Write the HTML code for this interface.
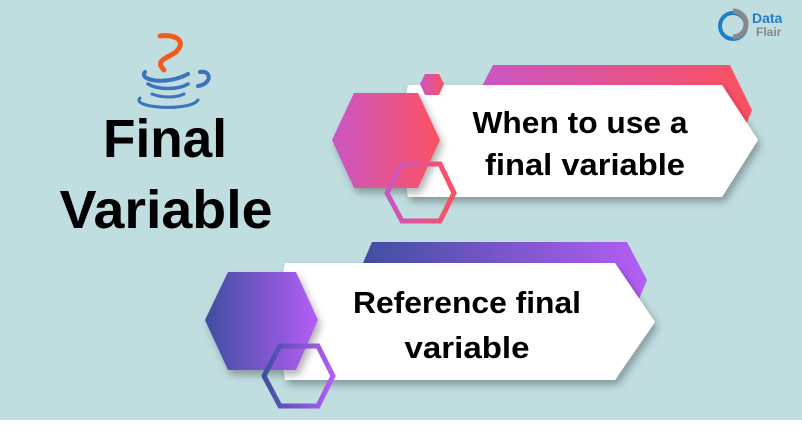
<!DOCTYPE html>
<html><head><meta charset="utf-8"><style>
html,body{margin:0;padding:0;background:#fff}
svg{display:block}
text{font-family:"Liberation Sans",sans-serif;font-weight:bold}
</style></head><body>
<svg width="802" height="431" viewBox="0 0 802 431" xmlns="http://www.w3.org/2000/svg">
<defs>
<linearGradient id="pk" x1="0" x2="1" y1="0" y2="0"><stop offset="0" stop-color="#c956c4"/><stop offset="1" stop-color="#fc5160"/></linearGradient>
<linearGradient id="pu" x1="0" x2="1" y1="0" y2="0"><stop offset="0" stop-color="#3f4ea0"/><stop offset="1" stop-color="#b55ef5"/></linearGradient>
<filter id="sh" x="-20%" y="-20%" width="140%" height="150%"><feDropShadow dx="3" dy="5" stdDeviation="4" flood-color="#000" flood-opacity="0.3"/></filter>
</defs>
<rect x="0" y="0" width="802" height="420" fill="#c0dde0"/>

<!-- Java logo -->
<g fill="none" stroke-linecap="round">
<path d="M160 36 C178 34 186 42 176 52 C168 58 154 60 164 70" stroke="#f25b1b" stroke-width="5"/>
<path d="M145 72 C138 80 165 86 188 74" stroke="#3a74bb" stroke-width="4"/>
<path d="M148 84 C158 90 178 90 188 84" stroke="#3a74bb" stroke-width="3.5"/>
<path d="M152 94 C162 98 176 98 184 94" stroke="#3a74bb" stroke-width="3"/>
<path d="M140 98 C130 108 190 112 198 100" stroke="#3a74bb" stroke-width="3"/>
<path d="M200 72 C212 70 212 84 198 86" stroke="#3a74bb" stroke-width="4"/>
</g>
<text x="165" y="157" font-size="54" text-anchor="middle" fill="#000" textLength="124" lengthAdjust="spacingAndGlyphs">Final</text>
<text x="166" y="228" font-size="54" text-anchor="middle" fill="#000" textLength="213" lengthAdjust="spacingAndGlyphs">Variable</text>

<!-- DataFlair logo -->
<circle cx="733" cy="26" r="13" fill="none" stroke="#1f7fc6" stroke-width="4"/>
<path d="M733 11 A13 13 0 0 1 746 24 A13 13 0 0 1 733 37" fill="none" stroke="#888" stroke-width="5"/>
<text x="752" y="23" font-size="14" fill="#1f7fc6">Data</text>
<text x="756" y="36" font-size="12" fill="#888">Flair</text>

<!-- Top group -->
<polygon points="493,65 730,65 752,110 740,140 480,140 480,90" fill="url(#pk)"/>
<polygon points="408,85 722,85 758,140 722,197 408,197 398,140" fill="#fff" filter="url(#sh)"/>
<polygon points="332,140 354,93 418,93 440,140 418,188 354,188" fill="url(#pk)" filter="url(#sh)"/>
<polygon points="425,74 439,74 444,84 439,95 425,95 420,84" fill="url(#pk)"/>
<polygon points="387,193 402,164 440,164 454,193 440,221 402,221" fill="none" stroke="url(#pk)" stroke-width="5"/>
<text x="580" y="133" font-size="31" fill="#000" text-anchor="middle" textLength="215" lengthAdjust="spacingAndGlyphs">When to use a</text>
<text x="585" y="175" font-size="31" fill="#000" text-anchor="middle" textLength="200" lengthAdjust="spacingAndGlyphs">final variable</text>

<!-- Bottom group -->
<polygon points="372,242 627,242 647,280 630,320 360,320 360,270" fill="url(#pu)"/>
<polygon points="285,263 615,263 655,322 615,380 285,380 275,322" fill="#fff" filter="url(#sh)"/>
<polygon points="205,320 228,272 296,272 318,320 296,370 228,370" fill="url(#pu)" filter="url(#sh)"/>
<polygon points="264,376 280,346 318,346 333,376 318,406 280,406" fill="none" stroke="url(#pu)" stroke-width="5"/>
<text x="467" y="313" font-size="31" fill="#000" text-anchor="middle" textLength="228" lengthAdjust="spacingAndGlyphs">Reference final</text>
<text x="467" y="358" font-size="31" fill="#000" text-anchor="middle" textLength="125" lengthAdjust="spacingAndGlyphs">variable</text>
</svg>
</body></html>
